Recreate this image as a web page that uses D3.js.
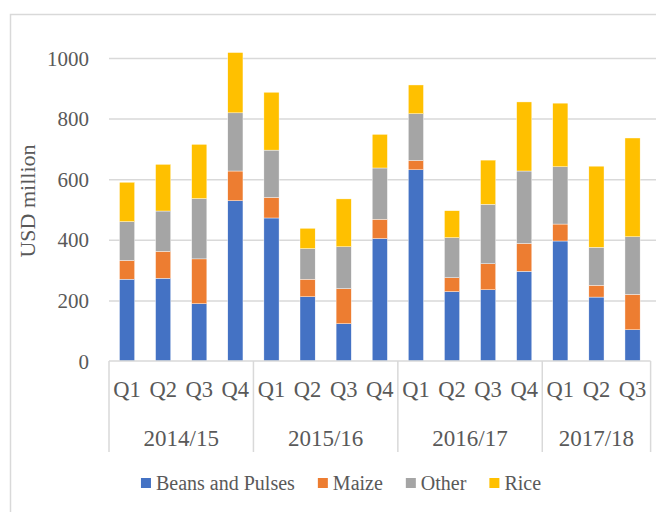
<!DOCTYPE html>
<html>
<head>
<meta charset="utf-8">
<script src="https://cdn.jsdelivr.net/npm/d3@7"></script>
<style>
  body { margin: 0; background: #fff; }
</style>
</head>
<body>
<svg width="656" height="512"></svg>
<script>
// quarters along the x axis, grouped by fiscal year
const quarters = ["Q1", "Q2", "Q3", "Q4", "Q1", "Q2", "Q3", "Q4", "Q1", "Q2", "Q3", "Q4", "Q1", "Q2", "Q3"];
const years = ["2014/15", "2015/16", "2016/17", "2017/18"];
const yearStart = [0, 4, 8, 12];

// USD million
const beans = [270, 273, 189, 529, 472, 212, 123, 404, 631, 229, 235, 296, 396, 211, 103];
const maize = [62, 89, 148, 98, 68, 58, 116, 64, 31, 46, 86, 92, 56, 39, 117];
const other = [128, 133, 199, 192, 156, 101, 138, 169, 154, 132, 196, 239, 189, 125, 190];
const rice = [130, 154, 179, 199, 191, 67, 158, 111, 95, 89, 146, 228, 210, 268, 326];

const seriesNames = ["Beans and Pulses", "Maize", "Other", "Rice"];
const colors = ["#4472C4", "#ED7D31", "#A5A5A5", "#FFC000"];
const yTicks = [0, 200, 400, 600, 800, 1000];

const width = 656, height = 512;
const plotLeft = 109, plotRight = 650.6, plotTop = 58, plotBottom = 361;
const serif = "'Liberation Serif', 'Times New Roman', serif";
const textColor = "#595959";

const svg = d3.select("svg")
    .attr("font-family", serif);

// outer chart border (runs off the right and bottom edge)
svg.append("rect")
    .attr("x", 10.5).attr("y", 14.5)
    .attr("width", 720).attr("height", 620)
    .attr("fill", "none")
    .attr("stroke", "#D9D9D9")
    .attr("stroke-width", 1.5);

const table = quarters.map((q, i) => ({
    i: i,
    "Beans and Pulses": beans[i],
    "Maize": maize[i],
    "Other": other[i],
    "Rice": rice[i]
}));

const x = d3.scaleBand()
    .domain(d3.range(quarters.length))
    .range([plotLeft, plotRight])
    .paddingInner(0.58)
    .paddingOuter(0.29);

const y = d3.scaleLinear()
    .domain([0, 1000])
    .range([plotBottom, plotTop]);

// y axis with gridlines
const yAxis = svg.append("g")
    .attr("transform", `translate(${plotLeft},0)`)
    .call(d3.axisLeft(y).tickValues(yTicks).tickFormat(d3.format("d"))
        .tickSize(-(width + 4 - plotLeft)).tickPadding(20));
yAxis.attr("font-family", serif);
yAxis.select(".domain").remove();
yAxis.selectAll(".tick line")
    .attr("stroke", "#D9D9D9")
    .attr("stroke-width", 1.5)
    .attr("opacity", d => d === 0 ? 0 : 1);
yAxis.selectAll(".tick text")
    .attr("font-size", 21)
    .attr("fill", textColor)
    .attr("dy", "0.34em");

// stacked bars
const stack = d3.stack().keys(seriesNames)(table);

svg.append("g")
    .selectAll("g")
    .data(stack)
    .join("g")
    .attr("fill", (d, k) => colors[k])
    .selectAll("rect")
    .data(d => d)
    .join("rect")
    .attr("x", d => x(d.data.i))
    .attr("width", x.bandwidth())
    .attr("y", d => y(d[1]))
    .attr("height", d => y(d[0]) - y(d[1]))
    .attr("stroke", "#fff")
    .attr("stroke-width", 0.4);

// category axis: quarter labels
const xAxis = svg.append("g")
    .attr("transform", `translate(0,${plotBottom})`)
    .call(d3.axisBottom(x).tickFormat(i => quarters[i]).tickSize(0).tickPadding(20));
xAxis.attr("font-family", serif);
xAxis.select(".domain").remove();
xAxis.selectAll(".tick text")
    .attr("font-size", 22.5)
    .attr("fill", textColor);

svg.append("line")
    .attr("x1", plotLeft).attr("x2", plotRight)
    .attr("y1", plotBottom).attr("y2", plotBottom)
    .attr("stroke", "#D9D9D9")
    .attr("stroke-width", 1.5);

// group separators
const pad = x.step() * x.paddingInner() / 2;
const bounds = yearStart.map(s => x(s) - pad).concat([x(quarters.length - 1) + x.bandwidth() + pad]);
svg.append("g")
    .selectAll("line")
    .data(bounds)
    .join("line")
    .attr("x1", d => d).attr("x2", d => d)
    .attr("y1", plotBottom).attr("y2", 452)
    .attr("stroke", "#D9D9D9")
    .attr("stroke-width", 1.5);

// year labels
svg.append("g")
    .selectAll("text")
    .data(years)
    .join("text")
    .attr("x", (d, k) => (bounds[k] + bounds[k + 1]) / 2)
    .attr("y", 446)
    .attr("text-anchor", "middle")
    .attr("font-size", 23)
    .attr("fill", textColor)
    .text(d => d);

// y axis title
svg.append("text")
    .attr("transform", "translate(35,201) rotate(-90)")
    .attr("text-anchor", "middle")
    .attr("font-size", 22)
    .attr("fill", textColor)
    .text("USD million");

// legend
const legend = svg.append("g");
let lx = 0;
seriesNames.forEach((name, k) => {
    legend.append("rect")
        .attr("x", lx).attr("y", 478)
        .attr("width", 10).attr("height", 10)
        .attr("fill", colors[k]);
    const t = legend.append("text")
        .attr("x", lx + 15)
        .attr("y", 490)
        .attr("font-size", 20)
        .attr("fill", textColor)
        .text(name);
    lx += 15 + t.node().getComputedTextLength() + 23;
});
lx -= 23;
legend.attr("transform", `translate(${341 - lx / 2},0)`);
</script>
</body>
</html>
